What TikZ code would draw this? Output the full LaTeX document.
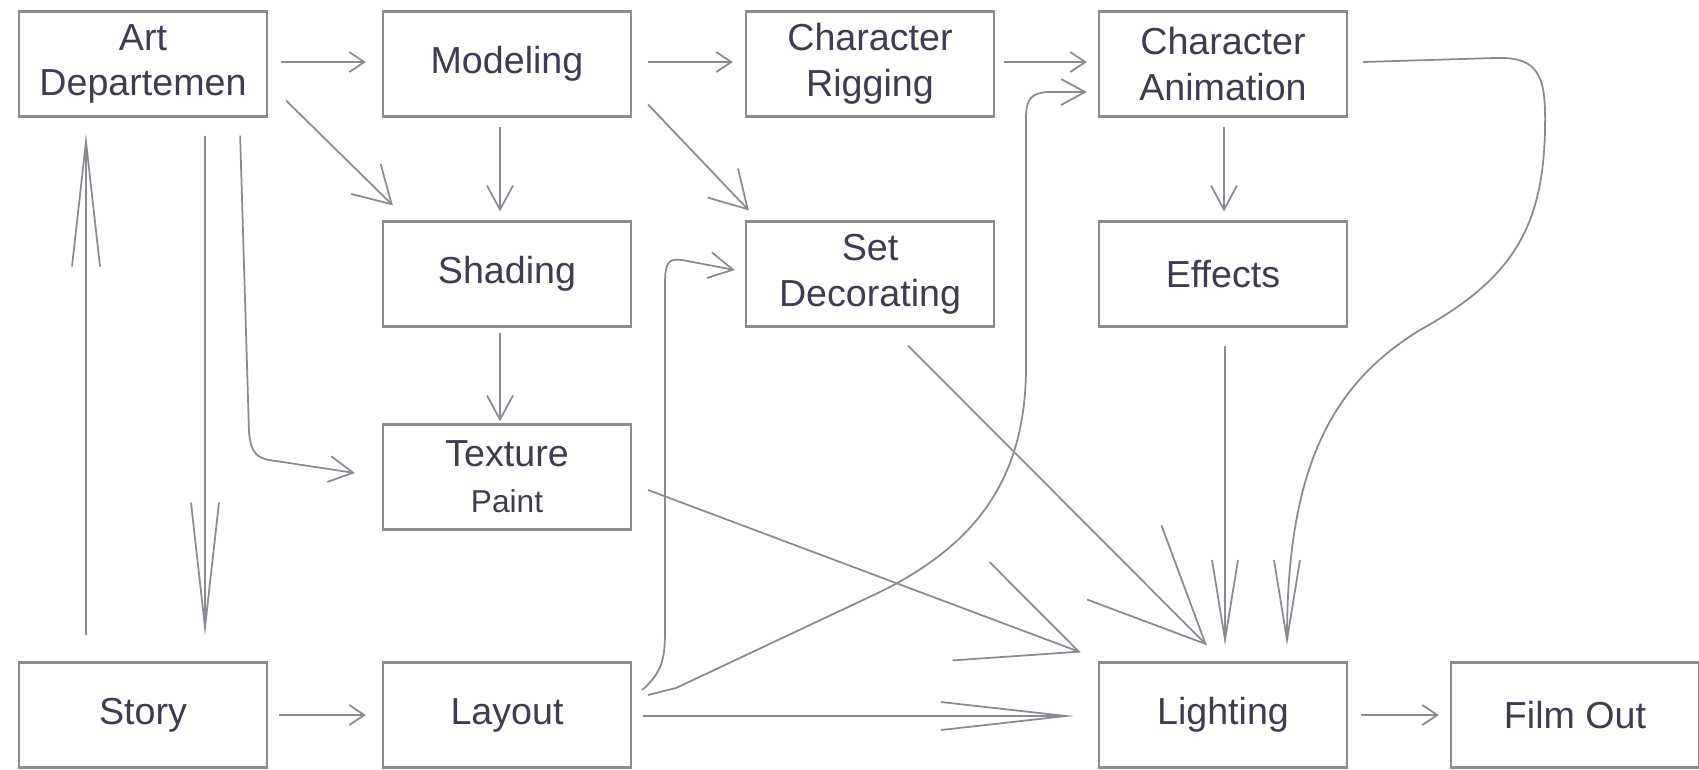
\documentclass[tikz,border=0pt]{standalone}
\usepackage{fontspec}
\setmainfont{Liberation Sans}
\usepackage{tikz}
\usetikzlibrary{arrows.meta}

\definecolor{boxgray}{HTML}{8C8C8C}
\definecolor{linegray}{HTML}{8A8A92}
\definecolor{txtcol}{HTML}{3C3C52}

\tikzset{
  box/.style={draw=boxgray, line width=0.6pt, minimum width=2.48cm, minimum height=1.05cm,
    inner sep=0pt, align=center, text=txtcol, font=\fontsize{10.7}{13}\selectfont},
  flow/.style={color=linegray, line width=0.5pt, -{Straight Barb[length=1.5mm,width=2mm]}},
  midflow/.style={flow, -{Straight Barb[length=2.4mm,width=2.6mm]}},
  bigflow/.style={flow, -{Straight Barb[length=3.6mm,width=4.2mm]}},
  spike/.style={flow, -{Straight Barb[length=12.5mm,width=2.8mm]}},
  shortspike/.style={flow, -{Straight Barb[length=8mm,width=2.6mm]}},
  fan/.style={flow, -{Straight Barb[length=11.5mm,width=10.5mm]}},
}

\begin{document}
\begin{tikzpicture}[x=0.01cm, y=-0.01cm]
  \useasboundingbox (0,0) rectangle (1699,769);
  % boxes
  \draw (143,64) node[box] (art) {Art\\Departemen};
  \draw (507,64) node[box] (model) {Modeling};
  \draw (870,64) node[box] (rig) {Character\\Rigging};
  \draw (1223,64) node[box] (anim) {Character\\Animation};
  \draw (507,274) node[box] (shade) {Shading};
  \draw (870,274) node[box] (setdec) {Set\\Decorating};
  \draw (1223,274) node[box] (effects) {Effects};
  \draw (507,477) node[box] (tex) {Texture\\{\fontsize{9}{12}\selectfont Paint}};
  \draw (143,715) node[box] (story) {Story};
  \draw (507,715) node[box] (layout) {Layout};
  \draw (1223,715) node[box] (light) {Lighting};
  \draw (1575,715) node[box] (film) {Film Out};

  % straight connectors
  \path[flow] ([shift={(13,-2)}]art.east) edge ([shift={(-16,-2)}]model.west);
  \path[flow] ([shift={(16,-2)}]model.east) edge ([shift={(-12,-2)}]rig.west);
  \path[flow] ([shift={(9,-2)}]rig.east) edge ([shift={(-11,-2)}]anim.west);
  \path[bigflow] ([shift={(18,-17)}]art.south east) edge ([shift={(11,-15)}]shade.north west);
  \path[midflow] ([shift={(-7,9)}]model.south) edge ([shift={(-7,-9)}]shade.north);
  \path[bigflow] ([shift={(16,-13)}]model.south east) edge ([shift={(4,-10)}]setdec.north west);
  \path[midflow] ([shift={(1,9)}]anim.south) edge ([shift={(1,-9)}]effects.north);
  \path[midflow] ([shift={(-7,5)}]shade.south) edge ([shift={(-7,-2)}]tex.north);
  \path[spike] ([shift={(62,18)}]art.south) edge ([shift={(62,-26)}]story.north);
  \path[spike] ([shift={(-57,-26)}]story.north) edge ([shift={(-57,16)}]art.south);
  \path[flow] ([shift={(11,0)}]story.east) edge ([shift={(-16,0)}]layout.west);
  \path[spike] ([shift={(11,1)}]layout.east) edge ([shift={(-24,1)}]light.west);
  \path[flow] ([shift={(13,0)}]light.east) edge ([shift={(-11,0)}]film.west);
  \path[fan] ([shift={(16,13)}]tex.east) edge ([shift={(-17,-9)}]light.north west);
  \path[fan] ([shift={(38,18)}]setdec.south) edge ([shift={(-16,-16)}]light.north);
  \path[shortspike] ([shift={(2,18)}]effects.south) edge ([shift={(2,-16)}]light.north);

  % curved connectors
  \draw[midflow] ([shift={(-28,18)}]art.south east) -- (249,432)
    .. controls (251,455) and (258,459) .. (276,461) -- ([shift={(-27,-4)}]tex.west);
  \draw[midflow] ([shift={(10,-25)}]layout.east) .. controls (662,672) and (665,660) .. (665,630)
    -- (665,285) .. controls (665,263) and (668,258) .. (682,260) -- ([shift={(-10,-4)}]setdec.west);
  \draw[midflow] ([shift={(16,-20)}]layout.east) -- (676,688) -- (880,592)
    .. controls (975,545) and (1025,480) .. (1026,370) -- (1026,118)
    .. controls (1026,98) and (1032,93) .. (1048,92) -- ([shift={(-11,28)}]anim.west);
  \draw[shortspike] ([shift={(15,-2)}]anim.east) -- (1495,58)
    .. controls (1542,56) and (1546,80) .. (1545,130)
    .. controls (1543,230) and (1510,280) .. (1420,330)
    .. controls (1330,385) and (1287,470) .. ([shift={(64,-16)}]light.north);
\end{tikzpicture}
\end{document}
